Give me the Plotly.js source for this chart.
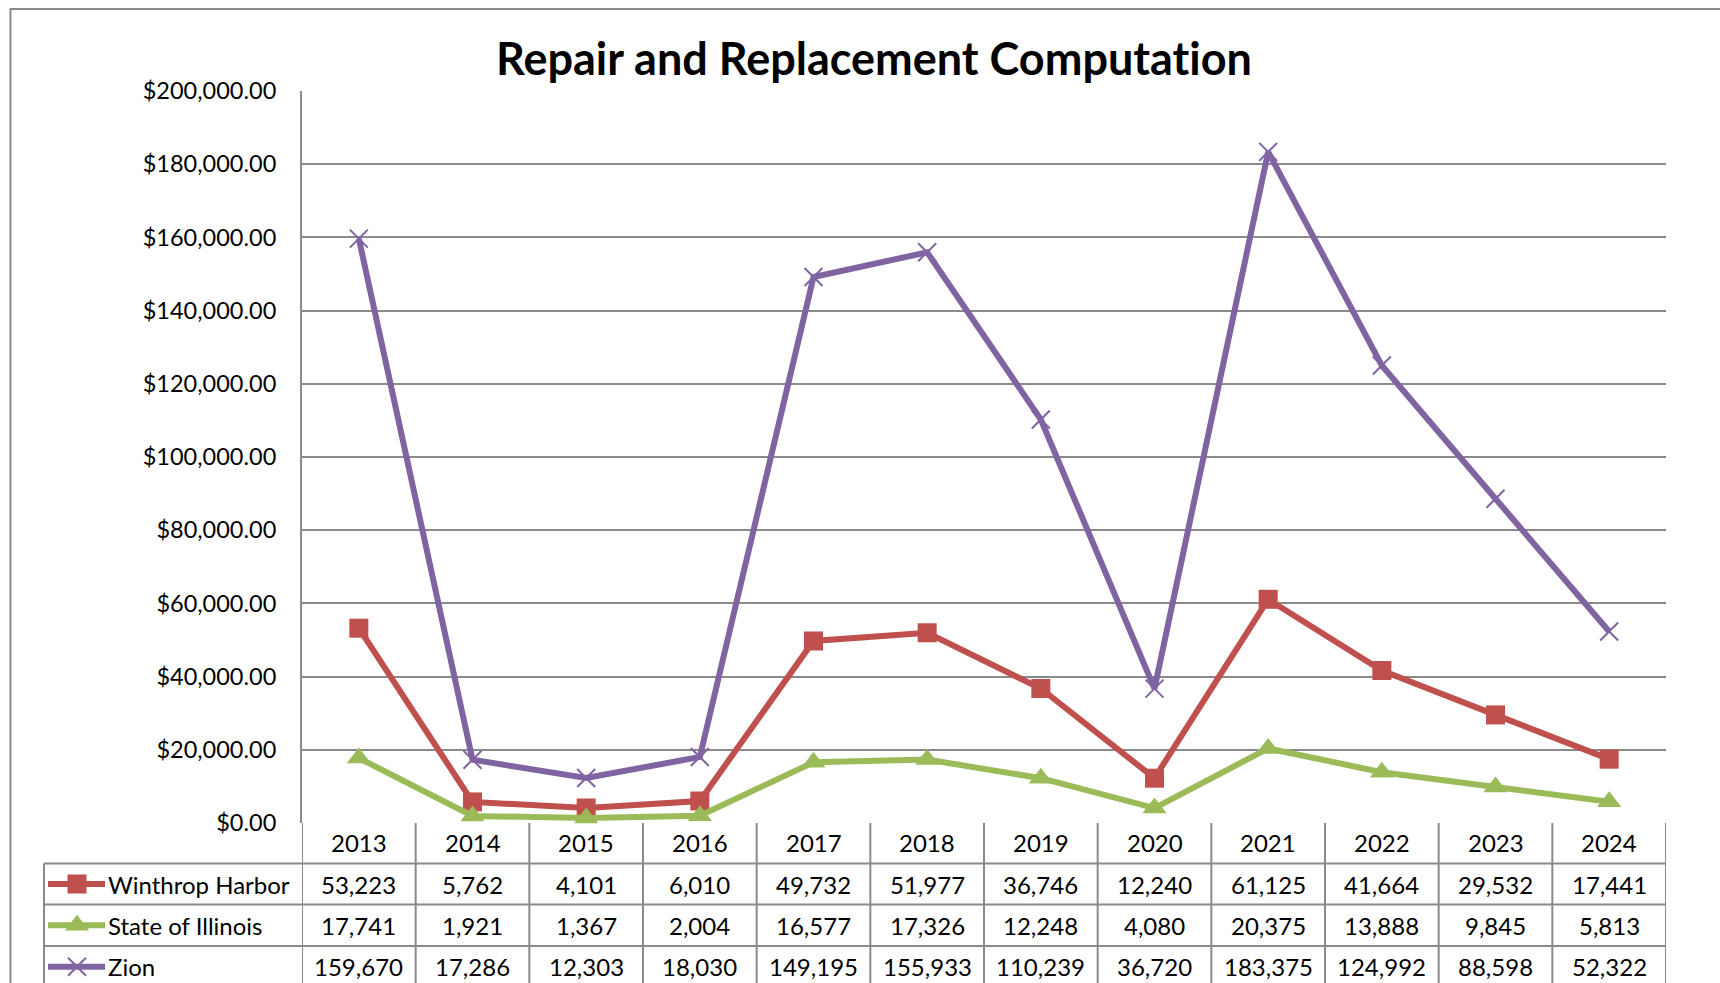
<!DOCTYPE html>
<html>
<head>
<meta charset="utf-8">
<script src="https://cdn.plot.ly/plotly-3.0.1.min.js"></script>
<style>
  html, body { margin: 0; padding: 0; background: #ffffff; }
  #chart { width: 1720px; height: 983px; }
  text { font-variant-ligatures: none; font-feature-settings: "liga" 0; }
</style>
</head>
<body>
<div id="chart"></div>
<script>
// ---------- data ----------
const years = ['2013','2014','2015','2016','2017','2018','2019','2020','2021','2022','2023','2024'];
const seriesNames = ['Winthrop Harbor', 'State of Illinois', 'Zion'];
const winthropHarbor = [53223, 5762, 4101, 6010, 49732, 51977, 36746, 12240, 61125, 41664, 29532, 17441];
const stateOfIllinois = [17741, 1921, 1367, 2004, 16577, 17326, 12248, 4080, 20375, 13888, 9845, 5813];
const zion = [159670, 17286, 12303, 18030, 149195, 155933, 110239, 36720, 183375, 124992, 88598, 52322];
const yTickValues = [0, 20000, 40000, 60000, 80000, 100000, 120000, 140000, 160000, 180000, 200000];

// ---------- styles / layout constants ----------
const W = 1720, H = 983;
const FONT = 'Lato, "Open Sans", sans-serif';
const GRID = '#8a8a8a';
const colors = ['#C0504D', '#9BBB59', '#8064A2'];
const plotLeft = 302, plotRight = 1666, plotTop = 91, plotBottom = 823;
const legendLeft = 44;
const rowEdges = [823, 863.5, 904.5, 946, 987.5]; // header row + 3 series rows
const px2py = p => 1 - p / H;
const px2px = p => p / W;

const valueSeries = [winthropHarbor, stateOfIllinois, zion];
const markers = [
  {symbol: 'square', size: 19, color: colors[0], line: {width: 0}},
  {symbol: 'triangle-up', size: 21, color: colors[1], line: {width: 0}},
  {symbol: 'x-thin', size: 18, color: colors[2], line: {width: 2, color: colors[2]}}
];

const traces = valueSeries.map((vals, i) => ({
  type: 'scatter', mode: 'lines+markers',
  name: seriesNames[i],
  x: years.map((_, j) => j), y: vals,
  xaxis: 'x', yaxis: 'y',
  line: {color: colors[i], width: 6},
  marker: markers[i],
  cliponaxis: false,
  showlegend: false
}));

// legend keys inside the data table (overlay axis in pixel units)
const keyX0 = 48, keyX1 = 105, keyXm = 77;
seriesNames.forEach((n, i) => {
  const cy = (rowEdges[i + 1] + rowEdges[i + 2]) / 2;
  traces.push({
    type: 'scatter', mode: 'lines', x: [keyX0, keyX1], y: [cy, cy],
    xaxis: 'x2', yaxis: 'y2', line: {color: colors[i], width: 6}, showlegend: false, hoverinfo: 'skip'
  });
  traces.push({
    type: 'scatter', mode: 'markers', x: [keyXm], y: [cy],
    xaxis: 'x2', yaxis: 'y2', marker: markers[i], showlegend: false, hoverinfo: 'skip'
  });
});

// ---------- table shapes & annotations ----------
const shapes = [];
const annotations = [];
const lineStyle = {color: GRID, width: 2};

// outer chart border
shapes.push({type: 'rect', xref: 'paper', yref: 'paper',
  x0: px2px(10.5), x1: 1.05, y0: -0.05, y1: px2py(9),
  line: {color: GRID, width: 2}, fillcolor: 'rgba(0,0,0,0)', layer: 'below'});

// vertical lines at category boundaries
for (let j = 0; j <= years.length; j++) {
  shapes.push({type: 'line', xref: 'x', yref: 'paper',
    x0: j - 0.5, x1: j - 0.5, y0: px2py(plotBottom), y1: -0.02, line: lineStyle});
}
// legend column left border
shapes.push({type: 'line', xref: 'paper', yref: 'paper',
  x0: px2px(legendLeft), x1: px2px(legendLeft), y0: px2py(rowEdges[1]), y1: -0.02, line: lineStyle});
// horizontal row lines
for (let r = 1; r < rowEdges.length; r++) {
  shapes.push({type: 'line', xref: 'paper', yref: 'paper',
    x0: px2px(legendLeft), x1: px2px(plotRight), y0: px2py(rowEdges[r]), y1: px2py(rowEdges[r]), line: lineStyle});
}

const tFont = {family: FONT, size: 24, color: '#000000'};
// header row (years)
years.forEach((yr, j) => {
  annotations.push({xref: 'x', yref: 'paper', x: j, y: px2py((rowEdges[0] + rowEdges[1]) / 2 - 1),
    text: yr, showarrow: false, font: tFont, xanchor: 'center', yanchor: 'middle'});
});
// value rows
valueSeries.forEach((vals, i) => {
  const cy = px2py((rowEdges[i + 1] + rowEdges[i + 2]) / 2);
  vals.forEach((v, j) => {
    annotations.push({xref: 'x', yref: 'paper', x: j, y: cy,
      text: v.toLocaleString('en-US'), showarrow: false, font: tFont, xanchor: 'center', yanchor: 'middle'});
  });
  annotations.push({xref: 'paper', yref: 'paper', x: px2px(106), y: cy,
    text: seriesNames[i], showarrow: false, font: tFont, xanchor: 'left', yanchor: 'middle'});
});

const layout = {
  width: W, height: H,
  margin: {l: 0, r: 0, t: 0, b: 0, pad: 0},
  paper_bgcolor: '#ffffff', plot_bgcolor: 'rgba(0,0,0,0)',
  showlegend: false,
  title: {text: '<b>Repair and Replacement Computation</b>', x: 874 / W, xanchor: 'center',
    y: px2py(59), yanchor: 'middle', xref: 'paper', yref: 'paper',
    font: {family: FONT, size: 45, color: '#000000'}},
  xaxis: {
    domain: [px2px(plotLeft), px2px(plotRight)],
    type: 'linear', range: [-0.5, years.length - 0.5],
    showgrid: false, zeroline: false, showline: false,
    showticklabels: false, ticks: '', fixedrange: true
  },
  yaxis: {
    domain: [px2py(plotBottom), px2py(plotTop)],
    range: [0, 200000], tickvals: yTickValues,
    tickformat: '$,.2f',
    showgrid: true, gridcolor: GRID, gridwidth: 2,
    zeroline: false, showline: true, linecolor: GRID, linewidth: 2,
    ticks: 'outside', ticklen: 19, tickcolor: 'rgba(0,0,0,0)',
    tickfont: {family: FONT, size: 23.5, color: '#000000'}, fixedrange: true
  },
  xaxis2: {domain: [0, 1], range: [0, W], visible: false, anchor: 'y2', fixedrange: true},
  yaxis2: {domain: [0, 1], range: [H, 0], visible: false, anchor: 'x2', fixedrange: true},
  shapes: shapes,
  annotations: annotations
};

Plotly.newPlot('chart', traces, layout, {displayModeBar: false, staticPlot: true});
</script>
</body>
</html>
